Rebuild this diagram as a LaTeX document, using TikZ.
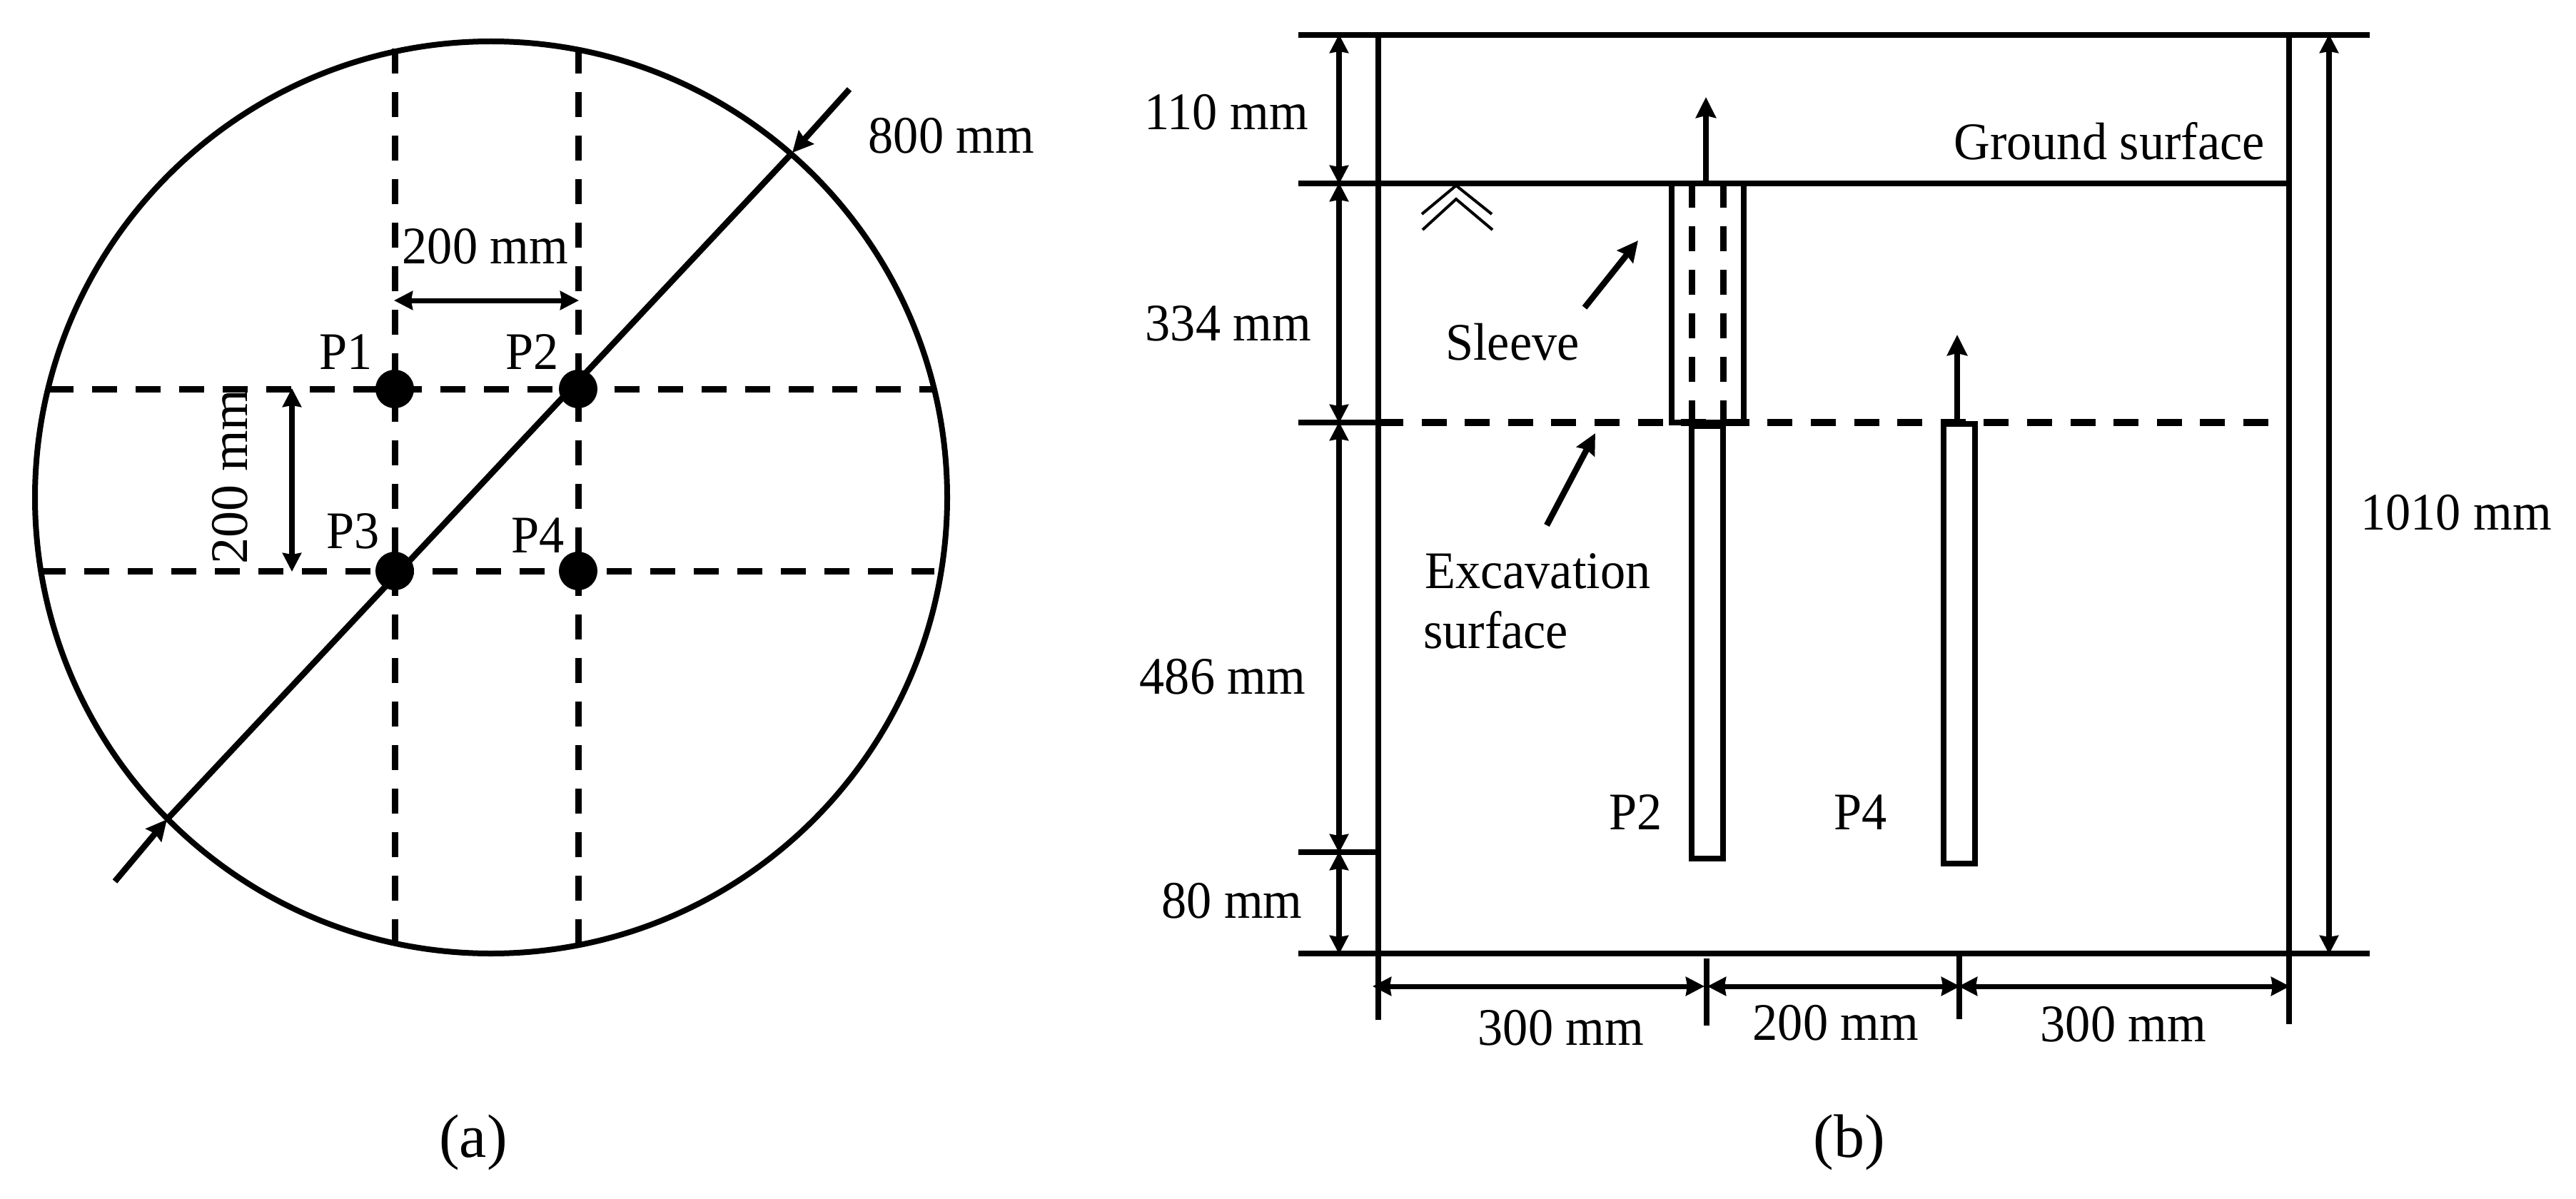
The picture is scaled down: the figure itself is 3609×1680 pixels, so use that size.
\documentclass[tikz,border=0pt]{standalone}
\usepackage{fontspec}
\setmainfont{Liberation Serif}
\usetikzlibrary{arrows.meta}
\tikzset{
  ln/.style={line width=8.5pt,black},
  circ/.style={line width=8pt,black},
  dsh/.style={line width=9pt,black,dash pattern=on 35pt off 26pt},
  dshb/.style={line width=9.5pt,black,dash pattern=on 35pt off 25.6pt},
  thinln/.style={line width=4pt,black},
  tipped/.style={-{Stealth[length=29pt,width=28pt,inset=3pt]}},
  dimline/.style={line width=8pt,black,{Stealth[length=26pt,width=26pt,inset=2pt]}-{Stealth[length=26pt,width=26pt,inset=2pt]},shorten <=-1pt,shorten >=-1pt},
  dimh/.style={dimline,line width=7pt},
  lbl/.style={inner sep=0pt,xscale=.95,font=\fontsize{74}{80}\selectfont,text=black},
  rlbl/.style={inner sep=0pt,font=\fontsize{74}{80}\selectfont,text=black},
  captxt/.style={inner sep=0pt,font=\fontsize{86}{90}\selectfont,text=black},
  dotn/.style={circle,fill=black,inner sep=0pt,minimum size=54pt},
}
\begin{document}
\begin{tikzpicture}[x=1pt,y=-1pt]
\useasboundingbox (0,0) rectangle (3609,1680);
% ---------- panel (a)
\draw[circ] (688,697) circle (639);
\draw[dsh] (553,68) -- (553,1322);
\draw[dsh] (810,68) -- (810,1322);
\draw[dsh] (68,545) -- (1309,545);
\draw[dsh] (57,800) -- (1309,800);
\node[dotn] (d1) at (553,545) {};
\node[dotn] (d2) at (810,545) {};
\node[dotn] (d3) at (553,800) {};
\node[dotn] (d4) at (810,800) {};
\coordinate (dA) at (234,1148);
\coordinate (dB) at (1110,214);
\coordinate (oA) at (161,1235);
\coordinate (oB) at (1190,125);
\draw[ln] (dA) -- (dB);
\draw[ln,tipped] (oA) -- (dA);
\draw[ln,tipped] (oB) -- (dB);
\draw[dimh] (553,421) -- (810,421);
\draw[dimline] (409,545) -- (409,800);
\node[lbl] at (1333,190) {800 mm};
\node[lbl] at (680,345) {200 mm};
\node[rlbl,rotate=90] at (322,668) {200 mm};
\node[lbl] at (485,493) {P1};
\node[lbl] at (746,493) {P2};
\node[lbl] at (495,744) {P3};
\node[lbl] at (754,750) {P4};
\node[captxt] at (663,1601) {(a)};
% ---------- panel (b)
\draw[ln] (1819,49) -- (3320,49);
\draw[ln] (1819,257) -- (3207,257);
\draw[ln] (1819,1336) -- (3320,1336);
\draw[ln] (1819,1194) -- (1931,1194);
\draw[ln] (1819,592) -- (1931,592);
\draw[ln] (1931,49) -- (1931,1429);
\draw[ln] (3207,49) -- (3207,1435);
\draw[ln] (2391,1343) -- (2391,1437);
\draw[ln] (2745,1339) -- (2745,1428);
\draw[dshb] (1931,592) -- (3202,592);
\draw[ln] (2342,257) rectangle (2443,592);
\draw[dsh] (2370,256) -- (2370,592);
\draw[dsh] (2414,256) -- (2414,592);
\draw[ln] (2370,597) rectangle (2414,1203);
\draw[ln] (2723,594) rectangle (2767,1210);
\draw[ln,tipped] (2390,257) -- (2390,136);
\draw[ln,tipped] (2742,592) -- (2742,469);
\draw[thinln] (1992,300) -- (2040,260) -- (2090,300);
\draw[thinln] (1993,322) -- (2040,279) -- (2091,322);
\draw[ln,tipped] (2220,431) -- (2295,337);
\draw[ln,tipped] (2167,736) -- (2235,607);
\draw[dimline] (1876,49) -- (1876,257);
\draw[dimline] (1876,257) -- (1876,592);
\draw[dimline] (1876,592) -- (1876,1194);
\draw[dimline] (1876,1194) -- (1876,1336);
\draw[dimline] (3263,49) -- (3263,1336);
\draw[dimh] (1924,1382) -- (2387,1382);
\draw[dimh] (2393,1382) -- (2745,1382);
\draw[dimh] (2745,1382) -- (3207,1382);
\node[lbl] at (1718,157) {110 mm};
\node[lbl] at (1721,453) {334 mm};
\node[lbl] at (1713,948) {486 mm};
\node[lbl] at (1726,1262) {80 mm};
\node[lbl] at (3441,718) {1010 mm};
\node[lbl] at (2955,198) {Ground surface};
\node[lbl] at (2119,479) {Sleeve};
\node[lbl,anchor=west] at (1996,800) {Excavation};
\node[lbl,anchor=west] at (1994,883) {surface};
\node[lbl] at (2292,1138) {P2};
\node[lbl] at (2607,1138) {P4};
\node[lbl] at (2187,1440) {300 mm};
\node[lbl] at (2572,1433) {200 mm};
\node[lbl] at (2975,1435) {300 mm};
\node[captxt] at (2591,1601) {(b)};
\end{tikzpicture}
\end{document}
